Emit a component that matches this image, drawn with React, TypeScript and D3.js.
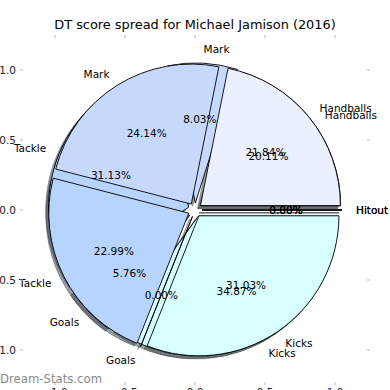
import React, { useEffect, useRef } from 'react';
import * as d3 from 'd3';

const categories = ['Handballs', 'Mark', 'Tackle', 'Goals', 'Kicks', 'Hitout'];
// first pie, drawn underneath
const backValues = [20.11, 8.03, 31.13, 5.76, 34.87, 0];
// second pie, drawn on top
const frontValues = [21.84, 24.14, 22.99, 0, 31.03, 0];
const sliceColors = ['#eaf0fd', '#c6d9fd', '#b6d4fd', '#e2fbff', '#d8ffff', '#cfe0f5'];
const tickValues = [-1, -0.5, 0, 0.5, 1];
const chartTitle = 'DT score spread for Michael Jamison (2016)';
const watermark = 'Dream-Stats.com';

export default function App() {
  const svgRef = useRef<SVGSVGElement>(null);

  useEffect(() => {
    if (!svgRef.current) return;
    const svg = d3.select(svgRef.current);
    svg.selectAll('*').remove();

    const width = 390;
    const height = 390;
    const explode = 0.05;
    const font = 'DejaVu Sans, sans-serif';

    svg.attr('width', width).attr('height', height);

    const x = d3.scaleLinear().domain([-1.25, 1.25]).range([20, 370]);
    const y = d3.scaleLinear().domain([-1.25, 1.25]).range([385, 35]);
    const r = x(1) - x(0);
    const cx = x(0);
    const cy = y(0);

    // matplotlib style: start at 3 o'clock, go counter-clockwise
    const pie = d3
      .pie<number>()
      .sort(null)
      .value((d) => d)
      .startAngle(Math.PI / 2)
      .endAngle(Math.PI / 2 - 2 * Math.PI);

    const arc = d3.arc<d3.PieArcDatum<number>>().innerRadius(0).outerRadius(r);

    const pies = [pie(backValues), pie(frontValues)];
    const mid = (d: d3.PieArcDatum<number>) => (d.startAngle + d.endAngle) / 2;
    const offset = (d: d3.PieArcDatum<number>, dist: number) => {
      const a = mid(d);
      return [Math.sin(a) * dist, -Math.cos(a) * dist];
    };

    const shadowDx = x(-0.02) - x(0);
    const shadowDy = y(-0.02) - y(0);

    // shadows
    pies.forEach((arcs) => {
      arcs.forEach((d, i) => {
        const [ox, oy] = offset(d, explode * r);
        const c = d3.rgb(sliceColors[i]);
        const dark = d3.rgb(c.r * 0.3, c.g * 0.3, c.b * 0.3).formatHex();
        svg
          .append('path')
          .attr('d', arc(d)!)
          .attr('transform', `translate(${cx + ox + shadowDx},${cy + oy + shadowDy})`)
          .attr('fill', dark)
          .attr('fill-opacity', 0.5)
          .attr('stroke', dark)
          .attr('stroke-opacity', 0.5)
          .attr('stroke-width', 0.9);
      });
    });

    // wedges
    pies.forEach((arcs) => {
      arcs.forEach((d, i) => {
        const [ox, oy] = offset(d, explode * r);
        svg
          .append('path')
          .attr('d', arc(d)!)
          .attr('transform', `translate(${cx + ox},${cy + oy})`)
          .attr('fill', sliceColors[i])
          .attr('stroke', '#000')
          .attr('stroke-width', 0.9);
      });
    });

    // labels + percentages
    pies.forEach((arcs) => {
      arcs.forEach((d, i) => {
        const [lx, ly] = offset(d, (explode + 1.1) * r);
        svg
          .append('text')
          .attr('x', cx + lx)
          .attr('y', cy + ly)
          .attr('text-anchor', lx > 0 ? 'start' : 'end')
          .attr('dominant-baseline', 'central')
          .attr('font-family', font)
          .attr('font-size', 10.5)
          .attr('fill', '#000')
          .text(categories[i]);

        const [px, py] = offset(d, (explode + 0.6) * r);
        svg
          .append('text')
          .attr('x', cx + px)
          .attr('y', cy + py)
          .attr('text-anchor', 'middle')
          .attr('dominant-baseline', 'central')
          .attr('font-family', font)
          .attr('font-size', 10.5)
          .attr('fill', '#000')
          .text(`${d.value.toFixed(2)}%`);
      });
    });

    const tickColor = '#b8b8b8';
    const fmt = (t: number) => (t < 0 ? '\u2212' : '') + Math.abs(t).toFixed(1);

    // ticks on all four sides
    tickValues.forEach((t) => {
      [
        [20, 23],
        [367, 370],
      ].forEach(([a, b]) => {
        svg.append('line').attr('x1', a).attr('x2', b).attr('y1', y(t)).attr('y2', y(t))
          .attr('stroke', tickColor).attr('stroke-width', 1);
      });
      [
        [35, 38],
        [382, 385],
      ].forEach(([a, b]) => {
        svg.append('line').attr('x1', x(t)).attr('x2', x(t)).attr('y1', a).attr('y2', b)
          .attr('stroke', tickColor).attr('stroke-width', 1);
      });

      svg
        .append('text')
        .attr('x', 16)
        .attr('y', y(t))
        .attr('text-anchor', 'end')
        .attr('dominant-baseline', 'central')
        .attr('font-family', font)
        .attr('font-size', 10.5)
        .attr('fill', '#222')
        .text(fmt(t));

      svg
        .append('text')
        .attr('x', x(t))
        .attr('y', 388)
        .attr('text-anchor', 'middle')
        .attr('dominant-baseline', 'hanging')
        .attr('font-family', font)
        .attr('font-size', 10.5)
        .attr('fill', '#222')
        .text(fmt(t));
    });

    svg
      .append('text')
      .attr('x', width / 2)
      .attr('y', 29)
      .attr('text-anchor', 'middle')
      .attr('font-family', font)
      .attr('font-size', 12.9)
      .attr('fill', '#000')
      .text(chartTitle);

    svg
      .append('text')
      .attr('x', 0)
      .attr('y', 383)
      .attr('font-family', font)
      .attr('font-size', 11.7)
      .attr('fill', '#8a8a8a')
      .text(watermark);
  }, []);

  return (
    <svg ref={svgRef} style={{ position: 'absolute', left: 0, top: 0, background: '#fff' }}></svg>
  );
}
